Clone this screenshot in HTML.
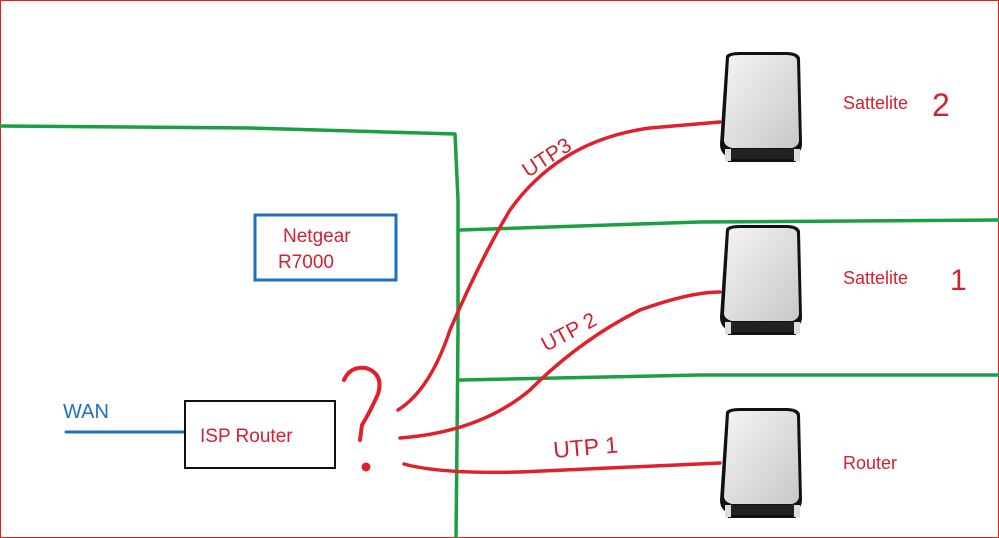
<!DOCTYPE html><html><head><style>body{margin:0;background:#fff}svg{display:block}text{font-family:"Liberation Sans",sans-serif}</style></head><body>
<svg width="999" height="538" viewBox="0 0 999 538">
<rect x="0.5" y="0.5" width="998" height="537" fill="#fff" stroke="#e02020" stroke-width="1"/>
<defs>
<linearGradient id="g" x1="0" y1="0" x2="1" y2="1"><stop offset="0" stop-color="#f4f4f4"/><stop offset="1" stop-color="#c8c8c8"/></linearGradient>
<g id="dev">
<path d="M6 4 Q8 0 20 0 H66 Q78 0 80 6 L82 92 Q82 100 74 104 L76 110 H8 L6 104 Q0 100 0 92 Z" fill="#111"/>
<path d="M9 6 Q10 3 20 3 H66 Q76 3 77 8 L79 88 Q79 94 72 96 H12 Q4 94 4 88 Z" fill="url(#g)"/>
<rect x="10" y="97" width="64" height="10" fill="#222"/>
<rect x="5" y="97" width="6" height="12" fill="#ddd"/><rect x="74" y="97" width="6" height="12" fill="#ddd"/>
</g>
</defs>
<g fill="none" stroke-linecap="round" stroke-linejoin="round">
<!-- green lines -->
<path d="M0 126 L250 128 L455 134 L458 200 L458 330 L457 440 L456 538" stroke="#1aa040" stroke-width="3.5"/>
<path d="M460 230 L700 222 L999 220" stroke="#1aa040" stroke-width="3.5"/>
<path d="M460 380 L700 375 L999 375" stroke="#1aa040" stroke-width="3.5"/>
<!-- red lines -->
<path d="M398 410 Q430 390 450 330 Q480 260 510 210 Q560 140 650 128 L720 122" stroke="#e0202a" stroke-width="3.5"/>
<path d="M400 438 Q480 432 530 390 Q580 340 640 310 Q690 292 720 292" stroke="#e0202a" stroke-width="3.5"/>
<path d="M404 464 Q440 474 520 472 L720 463" stroke="#e0202a" stroke-width="3.5"/>
<!-- question mark -->
<path d="M344 380 Q350 366 366 368 Q384 374 378 394 Q370 412 362 425 L360 440" stroke="#e0202a" stroke-width="4"/>
<circle cx="366" cy="467" r="3" fill="#e0202a" stroke="#e0202a" stroke-width="3"/>
<!-- WAN -->
<path d="M66 432 L185 432" stroke="#1e6fc0" stroke-width="3"/>
</g>
<rect x="185" y="401" width="150" height="67" fill="#fff" stroke="#111" stroke-width="2"/>
<rect x="255" y="215" width="141" height="65" fill="none" stroke="#1e6fc0" stroke-width="3"/>
<text x="200" y="442" font-size="19" fill="#d42030">ISP Router</text>
<text x="283" y="242" font-size="19" fill="#d42030">Netgear</text>
<text x="278" y="268" font-size="19" fill="#d42030">R7000</text>
<text x="63" y="418" font-size="20" fill="#1e6fc0">WAN</text>
<text x="0" y="0" font-size="21" fill="#d42030" transform="translate(528,178) rotate(-33)">UTP3</text>
<text x="0" y="0" font-size="21" fill="#d42030" transform="translate(546,352) rotate(-28)">UTP 2</text>
<text x="0" y="0" font-size="23" fill="#d42030" transform="translate(554,458) rotate(-5)">UTP 1</text>
<text x="843" y="109" font-size="18" fill="#d42030">Sattelite</text>
<text x="932" y="116" font-size="32" fill="#d42030">2</text>
<text x="843" y="284" font-size="18" fill="#d42030">Sattelite</text>
<text x="950" y="290" font-size="30" fill="#d42030">1</text>
<text x="843" y="469" font-size="18" fill="#d42030">Router</text>
<use href="#dev" x="720" y="52"/>
<use href="#dev" x="720" y="225"/>
<use href="#dev" x="720" y="408"/>
</svg></body></html>
